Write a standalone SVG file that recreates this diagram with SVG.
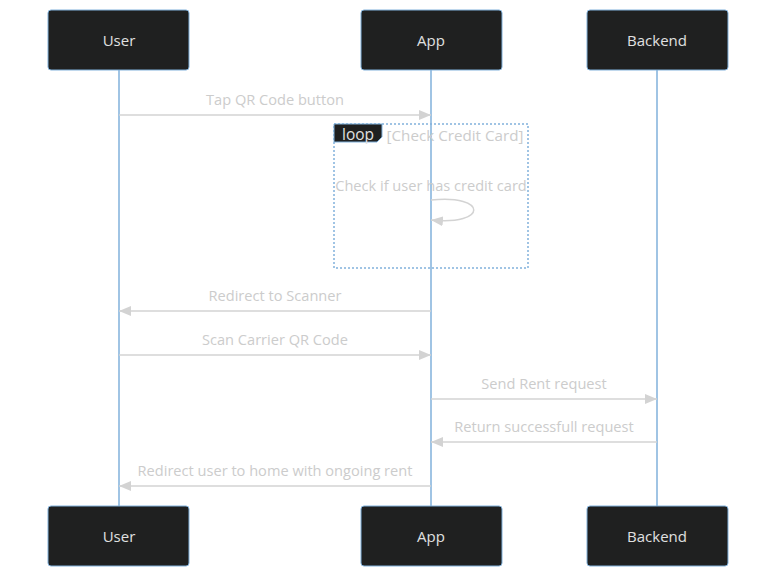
<svg xmlns="http://www.w3.org/2000/svg" width="784" height="584" viewBox="0 0 784 584">
<style>
.actor{fill:#1f2020;stroke:#81b1db;stroke-width:1}
.atext{fill:#e0e0e0;font-family:"Open Sans","DejaVu Sans",sans-serif;font-size:15px;text-anchor:middle;dominant-baseline:central}
.life{stroke:#81b1db;stroke-width:1.5}
.msg{stroke:#d3d3d3;stroke-width:1.5;fill:none}
.mtext{fill:#cccccc;font-family:"Open Sans","DejaVu Sans",sans-serif;font-size:14.6px;text-anchor:middle}
.loop{fill:none;stroke:#81b1db;stroke-width:1.5;stroke-dasharray:2 2}
</style>
<defs>
<marker id="arr" viewBox="0 0 12 10" refX="12" refY="5" markerWidth="12" markerHeight="10" markerUnits="userSpaceOnUse" orient="auto">
<path d="M0,0 L12,5 L0,10 z" fill="#d3d3d3"/>
</marker>
</defs>
<g id="lifelines">
<line class="life" x1="119" y1="70" x2="119" y2="506"/>
<line class="life" x1="431" y1="70" x2="431" y2="506"/>
<line class="life" x1="657" y1="70" x2="657" y2="506"/>
</g>
<g id="actor-user-top"><rect class="actor" x="48" y="10" width="141" height="60" rx="3"/><text class="atext" x="119" y="40">User</text></g>
<g id="actor-app-top"><rect class="actor" x="361" y="10" width="141" height="60" rx="3"/><text class="atext" x="431" y="40">App</text></g>
<g id="actor-backend-top"><rect class="actor" x="587" y="10" width="141" height="60" rx="3"/><text class="atext" x="657" y="40">Backend</text></g>
<g id="actor-user-bottom"><rect class="actor" x="48" y="506" width="141" height="60" rx="3"/><text class="atext" x="119" y="536">User</text></g>
<g id="actor-app-bottom"><rect class="actor" x="361" y="506" width="141" height="60" rx="3"/><text class="atext" x="431" y="536">App</text></g>
<g id="actor-backend-bottom"><rect class="actor" x="587" y="506" width="141" height="60" rx="3"/><text class="atext" x="657" y="536">Backend</text></g>
<g id="loop">
<rect class="loop" x="334" y="124" width="194" height="144"/>
<path d="M334,124 L382,124 L382,137 L377,142 L334,142 z" fill="#1f2020" stroke="#81b1db" stroke-width="1"/>
<text x="358" y="140" fill="#e0e0e0" font-family="Open Sans, DejaVu Sans, sans-serif" font-size="15.5" text-anchor="middle">loop</text>
<text x="455" y="141" class="mtext" style="font-size:15.2px">[Check Credit Card]</text>
</g>
<g id="connectors">
<text class="mtext" x="275" y="105">Tap QR Code button</text>
<line class="msg" x1="119" y1="115" x2="431" y2="115" marker-end="url(#arr)"/>
<text class="mtext" x="431" y="191">Check if user has credit card</text>
<path class="msg" d="M431,200 C488,194 488,226 431,220" marker-end="url(#arr)"/>
<text class="mtext" x="275" y="301">Redirect to Scanner</text>
<line class="msg" x1="431" y1="311" x2="119" y2="311" marker-end="url(#arr)"/>
<text class="mtext" x="275" y="345">Scan Carrier QR Code</text>
<line class="msg" x1="119" y1="355" x2="431" y2="355" marker-end="url(#arr)"/>
<text class="mtext" x="544" y="389">Send Rent request</text>
<line class="msg" x1="431" y1="399" x2="657" y2="399" marker-end="url(#arr)"/>
<text class="mtext" x="544" y="432">Return successfull request</text>
<line class="msg" x1="657" y1="442" x2="431" y2="442" marker-end="url(#arr)"/>
<text class="mtext" x="275" y="476">Redirect user to home with ongoing rent</text>
<line class="msg" x1="431" y1="486" x2="119" y2="486" marker-end="url(#arr)"/>
</g>
</svg>
